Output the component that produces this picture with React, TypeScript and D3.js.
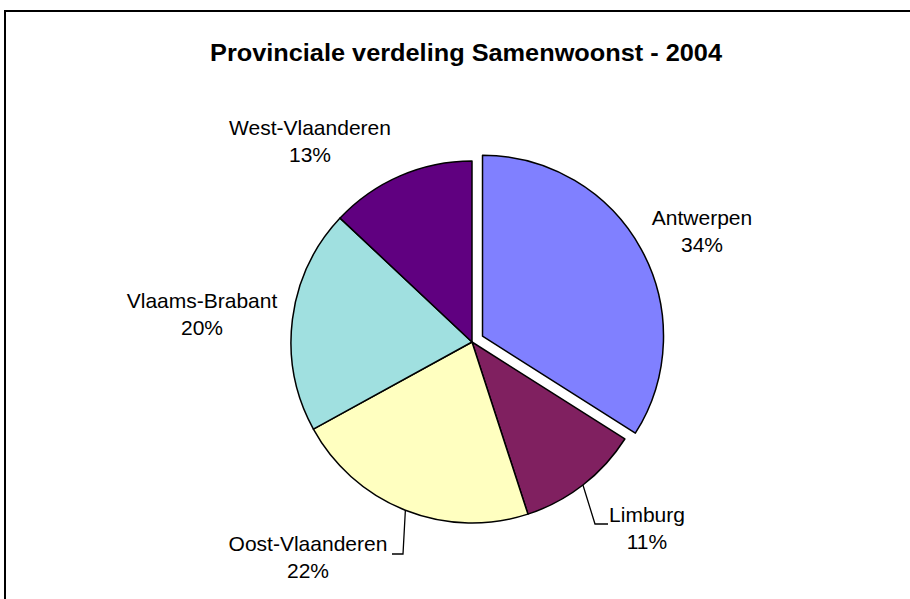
import React from "react";
import * as d3 from "d3";

const categories = ["Antwerpen", "Limburg", "Oost-Vlaanderen", "Vlaams-Brabant", "West-Vlaanderen"];
const values = [34, 11, 22, 20, 13];
const percentLabels = ["34%", "11%", "22%", "20%", "13%"];
const colors = ["#8080FF", "#802060", "#FFFFC0", "#A0E0E0", "#600080"];
const title = "Provinciale verdeling Samenwoonst - 2004";

// layout
const W = 910, H = 599;
const cx = 472, cy = 342, R = 181;
const explode = [12, 0, 0, 0, 0];
const labelPos: [number, number][] = [
  [702, 225],
  [647, 522],
  [308, 551],
  [202, 308],
  [310, 135],
];
const leaderBend: ([number, number][] | null)[] = [
  null,
  [[595, 524], [608, 524]],
  [[403, 554], [392, 554]],
  null,
  null,
];

export default function App() {
  const pie = d3.pie<number>().sort(null).value((d) => d).startAngle(0).endAngle(2 * Math.PI);
  const arcs = pie(values);
  const arcGen = d3.arc<d3.PieArcDatum<number>>().innerRadius(0).outerRadius(R);
  const font = "'Liberation Sans', Arial, sans-serif";

  return (
    <svg width={W} height={H} style={{ position: "absolute", left: 0, top: 0, background: "#fff" }}>
      <rect x={5} y={11} width={1000} height={1000} fill="#fff" stroke="#000" strokeWidth={2} />
      <text
        x={466}
        y={61}
        textAnchor="middle"
        fontFamily={font}
        fontWeight="bold"
        fontSize={23}
        textLength={512}
        lengthAdjust="spacingAndGlyphs"
      >
        {title}
      </text>
      <g transform={`translate(${cx},${cy})`}>
        {arcs.map((a, i) => {
          const mid = (a.startAngle + a.endAngle) / 2;
          const dx = explode[i] * Math.sin(mid);
          const dy = -explode[i] * Math.cos(mid);
          return (
            <path
              key={categories[i]}
              d={arcGen(a) || ""}
              transform={`translate(${dx},${dy})`}
              fill={colors[i]}
              stroke="#000"
              strokeWidth={1.5}
              strokeLinejoin="round"
            />
          );
        })}
      </g>
      {arcs.map((a, i) => {
        const mid = (a.startAngle + a.endAngle) / 2;
        const sx = cx + R * Math.sin(mid);
        const sy = cy - R * Math.cos(mid);
        const bend = leaderBend[i];
        if (!bend) return null;
        const pts = [[sx, sy], ...bend];
        return (
          <polyline
            key={"l" + i}
            points={pts.map((p) => p.join(",")).join(" ")}
            fill="none"
            stroke="#000"
            strokeWidth={1.3}
          />
        );
      })}
      {categories.map((c, i) => (
        <text key={"t" + i} textAnchor="middle" fontFamily={font} fontSize={21} fill="#000">
          <tspan x={labelPos[i][0]} y={labelPos[i][1]}>{c}</tspan>
          <tspan x={labelPos[i][0]} y={labelPos[i][1] + 27}>{percentLabels[i]}</tspan>
        </text>
      ))}
    </svg>
  );
}
